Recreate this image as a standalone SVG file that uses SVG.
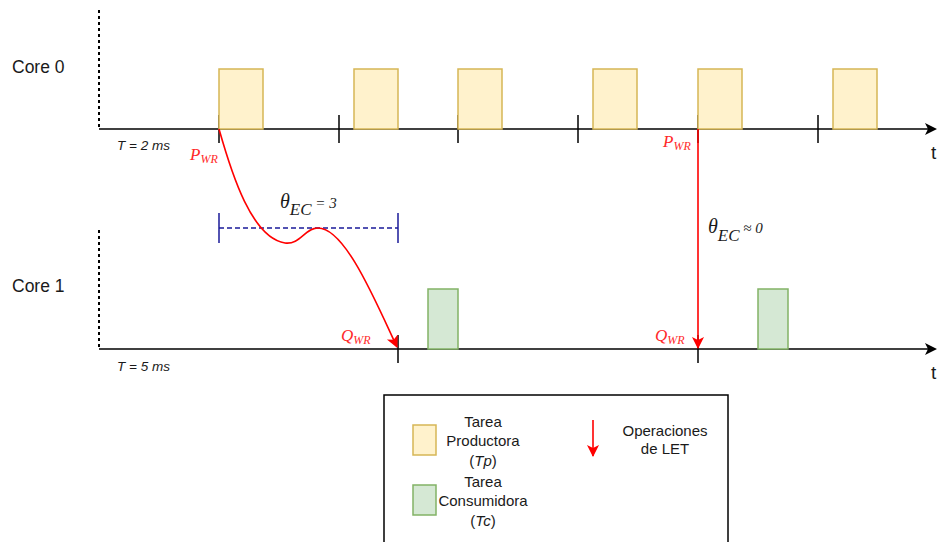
<svg xmlns="http://www.w3.org/2000/svg" width="940" height="542" viewBox="0 0 940 542">
  <style>
    .lbl { font-family: "Liberation Sans", Arial, sans-serif; fill: #1a1a1a; }
    .core { font-size: 17.5px; }
    .per { font-size: 13.5px; font-style: italic; }
    .t { font-size: 19px; }
    .math { font-family: "Liberation Serif", "Times New Roman", serif; font-style: italic; }
    .red { fill: #ff2a2a; }
    .axis { stroke: #000; stroke-width: 1.5; fill: none; }
    .tick { stroke: #000; stroke-width: 1.5; }
    .dash { stroke: #000; stroke-width: 2; stroke-dasharray: 3 3; }
    .prod { fill: #fff2cc; stroke: #d6b656; stroke-width: 1.5; }
    .cons { fill: #d5e8d4; stroke: #82b366; stroke-width: 1.5; }
    .let { stroke: #ff0000; stroke-width: 1.6; fill: none; }
    .leg { font-size: 15px; text-anchor: middle; }
  </style>
  <defs>
    <marker id="axisHead" markerWidth="12" markerHeight="12" refX="10" refY="6" orient="auto" markerUnits="userSpaceOnUse">
      <path d="M0,0 L12,6 L0,12 L3,6 Z" fill="#000"/>
    </marker>
    <marker id="letHead" markerWidth="12" markerHeight="14" refX="11" refY="6" orient="auto" markerUnits="userSpaceOnUse">
      <path d="M0,0 L12,6 L0,12 L3,6 Z" fill="#ff0000"/>
    </marker>
  </defs>

  <!-- Core 0 timeline -->
  <g id="core0">
    <text class="lbl core" x="12" y="73">Core 0</text>
    <line class="dash" x1="99" y1="10" x2="99" y2="128"/>
    <line class="axis" x1="99" y1="129" x2="935" y2="129" marker-end="url(#axisHead)"/>
    <text class="lbl t" x="931" y="159">t</text>
    <text class="lbl per" x="117" y="150">T = 2 ms</text>
    <line class="tick" x1="219" y1="115" x2="219" y2="143"/>
    <line class="tick" x1="339" y1="115" x2="339" y2="143"/>
    <line class="tick" x1="458" y1="115" x2="458" y2="143"/>
    <line class="tick" x1="578" y1="115" x2="578" y2="143"/>
    <line class="tick" x1="698" y1="115" x2="698" y2="143"/>
    <line class="tick" x1="818" y1="115" x2="818" y2="143"/>
  </g>
  <g id="tp1"><rect class="prod" x="219" y="69" width="44" height="60"/></g>
  <g id="tp2"><rect class="prod" x="354" y="69" width="44" height="60"/></g>
  <g id="tp3"><rect class="prod" x="458" y="69" width="44" height="60"/></g>
  <g id="tp4"><rect class="prod" x="593" y="69" width="44" height="60"/></g>
  <g id="tp5"><rect class="prod" x="698" y="69" width="44" height="60"/></g>
  <g id="tp6"><rect class="prod" x="833" y="69" width="44" height="60"/></g>

  <!-- Core 1 timeline -->
  <g id="core1">
    <text class="lbl core" x="12" y="292">Core 1</text>
    <line class="dash" x1="99" y1="230" x2="99" y2="348"/>
    <line class="axis" x1="99" y1="349" x2="935" y2="349" marker-end="url(#axisHead)"/>
    <text class="lbl t" x="931" y="379">t</text>
    <text class="lbl per" x="117" y="371">T = 5 ms</text>
    <line class="tick" x1="398" y1="335" x2="398" y2="363"/>
    <line class="tick" x1="698" y1="335" x2="698" y2="363"/>
  </g>
  <g id="tc1"><rect class="cons" x="428" y="289" width="30" height="60"/></g>
  <g id="tc2"><rect class="cons" x="758" y="289" width="30" height="60"/></g>

  <!-- Delay interval -->
  <g id="theta3">
    <line x1="219" y1="228" x2="398" y2="228" stroke="#1a1a99" stroke-width="1.5" stroke-dasharray="5 3"/>
    <line x1="219" y1="213" x2="219" y2="243" stroke="#1a1a99" stroke-width="1.5"/>
    <line x1="398" y1="213" x2="398" y2="243" stroke="#1a1a99" stroke-width="1.5"/>
    <text class="math" x="280" y="208" font-size="20" fill="#1a1a1a">θ<tspan font-size="17" dy="7">EC</tspan><tspan font-size="15" dy="-7"> = 3</tspan></text>
  </g>
  <g id="theta0">
    <text class="math" x="708" y="233" font-size="20" fill="#1a1a1a">θ<tspan font-size="17" dy="8">EC</tspan><tspan font-size="15" dy="-8"> ≈ 0</tspan></text>
  </g>

  <!-- LET write/read connectors -->
  <g id="connectors">
    <path class="let" d="M219,129 C232,175 252,238 285,243 C300,245 305,228 318,228 C345,228 375,300 397,347" marker-end="url(#letHead)"/>
    <line class="let" x1="698" y1="129" x2="698" y2="348" marker-end="url(#letHead)"/>
  </g>
  <g id="labels">
    <text class="math red" x="190" y="160" font-size="17">P<tspan font-size="12" dy="3">WR</tspan></text>
    <text class="math red" x="341" y="341" font-size="17">Q<tspan font-size="12" dy="3">WR</tspan></text>
    <text class="math red" x="663" y="147" font-size="17">P<tspan font-size="12" dy="3">WR</tspan></text>
    <text class="math red" x="655" y="341" font-size="17">Q<tspan font-size="12" dy="3">WR</tspan></text>
  </g>

  <!-- Legend -->
  <g id="legend">
    <rect x="384" y="395" width="344" height="160" fill="#fff" stroke="#000" stroke-width="1.5"/>
    <rect class="prod" x="413" y="425" width="23" height="30"/>
    <text class="lbl leg" x="483" y="427">Tarea</text>
    <text class="lbl leg" x="483" y="446">Productora</text>
    <text class="lbl leg" x="483" y="466">(<tspan font-style="italic">Tp</tspan>)</text>
    <rect class="cons" x="413" y="485" width="23" height="30"/>
    <text class="lbl leg" x="483" y="487">Tarea</text>
    <text class="lbl leg" x="483" y="506">Consumidora</text>
    <text class="lbl leg" x="483" y="526">(<tspan font-style="italic">Tc</tspan>)</text>
    <line class="let" x1="593" y1="420" x2="593" y2="456" marker-end="url(#letHead)"/>
    <text class="lbl leg" x="665" y="436">Operaciones</text>
    <text class="lbl leg" x="665" y="454">de LET</text>
  </g>
</svg>
